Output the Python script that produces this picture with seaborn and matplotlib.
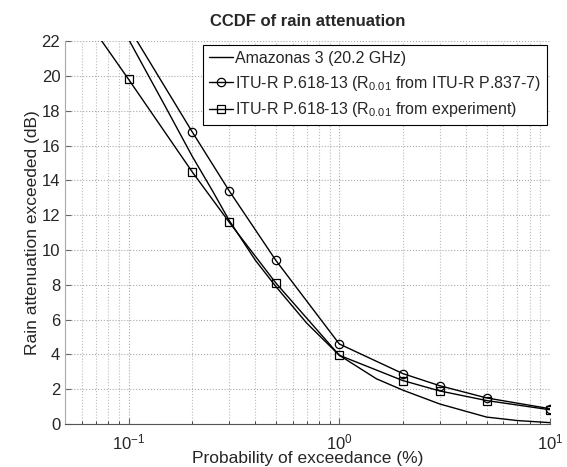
import matplotlib
matplotlib.use('Agg')
import matplotlib.pyplot as plt
import seaborn as sns
from matplotlib.ticker import LogLocator, NullFormatter

# Measured CCDF (Amazonas 3, 20.2 GHz)
p_meas = [0.1, 0.15, 0.2, 0.25, 0.3, 0.4, 0.5, 0.7, 1.0, 1.5, 2.0, 3.0, 5.0, 7.0, 10.0]
a_meas = [22.1, 18.2, 15.4, 13.4, 11.7, 9.4, 7.9, 5.8, 3.95, 2.6, 1.95, 1.15, 0.4, 0.2, 0.08]

# ITU-R P.618-13 with R0.01 from ITU-R P.837-7
p_itu = [0.1, 0.2, 0.3, 0.5, 1.0, 2.0, 3.0, 5.0, 10.0]
a_itu = [22.8, 16.8, 13.4, 9.4, 4.6, 2.9, 2.2, 1.5, 0.88]

# ITU-R P.618-13 with R0.01 from experiment
p_exp = [0.05, 0.1, 0.2, 0.3, 0.5, 1.0, 2.0, 3.0, 5.0, 10.0]
a_exp = [25.0, 19.8, 14.5, 11.6, 8.1, 3.95, 2.5, 1.9, 1.35, 0.82]

sns.set_style("ticks")
plt.rcParams['font.family'] = ['Liberation Sans', 'DejaVu Sans']
plt.rcParams['mathtext.default'] = 'regular'

fig, ax = plt.subplots(figsize=(5.67, 4.67), dpi=100)
fig.subplots_adjust(left=0.115, right=0.970, bottom=0.092, top=0.912)

sns.lineplot(x=p_meas, y=a_meas, ax=ax, color='black', linewidth=1,
             label='Amazonas 3 (20.2 GHz)')
sns.lineplot(x=p_itu, y=a_itu, ax=ax, color='black', linewidth=1, marker='o',
             markersize=6, markerfacecolor='none', markeredgecolor='black',
             markeredgewidth=0.9,
             label=r'ITU-R P.618-13 (R$_{0.01}$ from ITU-R P.837-7)')
sns.lineplot(x=p_exp, y=a_exp, ax=ax, color='black', linewidth=1, marker='s',
             markersize=6, markerfacecolor='none', markeredgecolor='black',
             markeredgewidth=0.9,
             label=r'ITU-R P.618-13 (R$_{0.01}$ from experiment)')

ax.set_xscale('log')
ax.set_xlim(0.05, 10)
ax.set_ylim(0, 22)
ax.set_yticks(range(0, 23, 2))
ax.xaxis.set_minor_locator(LogLocator(base=10, subs=range(2, 10)))
ax.xaxis.set_minor_formatter(NullFormatter())

ax.grid(True, which='major', linestyle=':', color='#aaaaaa', linewidth=0.8)
ax.grid(True, which='minor', axis='x', linestyle=':', color='#bbbbbb', linewidth=0.8)

ax.tick_params(direction='in', labelsize=12, length=4, color='#666666')
ax.tick_params(axis='x', pad=6)
ax.tick_params(which='minor', direction='in', length=2)
for s in ['top', 'right']:
    ax.spines[s].set_visible(False)
ax.spines['left'].set_color('#aaaaaa')
ax.spines['bottom'].set_color('#555555')

ax.set_title('CCDF of rain attenuation', fontsize=12, fontweight='bold', pad=11)
ax.set_xlabel('Probability of exceedance (%)', fontsize=12.5, labelpad=-1)
ax.set_ylabel('Rain attenuation exceeded (dB)', fontsize=12.5, labelpad=1)

leg = ax.legend(loc='upper right', bbox_to_anchor=(0.994, 0.99), fontsize=11.5,
                frameon=True, fancybox=False, edgecolor='black', framealpha=1,
                handlelength=1.5, handletextpad=0.15, borderaxespad=0,
                borderpad=0.35, labelspacing=0.5)
leg.get_frame().set_linewidth(0.8)

fig.savefig('out.png', dpi=100)
